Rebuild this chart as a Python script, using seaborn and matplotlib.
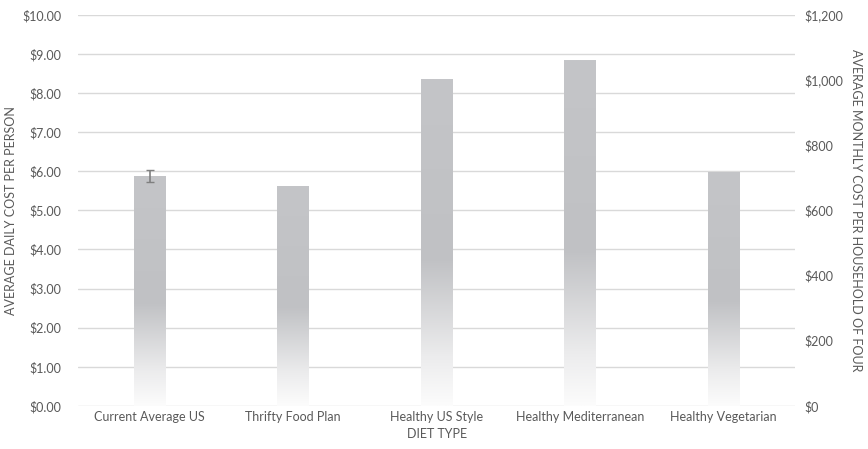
import numpy as np
import seaborn as sns
import matplotlib.pyplot as plt
from matplotlib.colors import LinearSegmentedColormap
from matplotlib.ticker import FuncFormatter

diet_types = ["Current Average US", "Thrifty Food Plan", "Healthy US Style",
              "Healthy Mediterranean", "Healthy Vegetarian"]
daily_cost = [5.88, 5.63, 8.36, 8.84, 5.98]
daily_err = [0.15, 0, 0, 0, 0]

sns.set_theme(style="white")
plt.rcParams["font.family"] = ["Lato", "DejaVu Sans"]
text_col = "#595959"

fig = plt.figure(figsize=(8.68, 4.49), dpi=100)
ax = fig.add_axes([0.09, 0.096, 0.826, 0.871])

sns.barplot(x=diet_types, y=daily_cost, color="#c2c3c6", width=0.22, ax=ax,
            edgecolor="none")

# vertical gradient fill clipped to each bar
grad = LinearSegmentedColormap.from_list(
    "g", [(0, "#fcfcfc"), (0.15, "#ececed"), (0.45, "#c0c1c4"), (1, "#c4c5c8")])
for bar in ax.patches:
    x0, y0 = bar.get_x(), bar.get_y()
    w, h = bar.get_width(), bar.get_height()
    img = ax.imshow(np.linspace(0, 1, 256).reshape(-1, 1), cmap=grad,
                    origin="lower", aspect="auto",
                    extent=[x0, x0 + w, y0, y0 + h], zorder=2)
    img.set_clip_path(bar)
    bar.set_facecolor("none")

ax.errorbar(range(len(diet_types))[:1], daily_cost[:1], yerr=daily_err[:1],
            fmt="none", ecolor="#7f7f7f", elinewidth=1.2, capsize=3, zorder=3)

ax.set_xlim(-0.5, len(diet_types) - 0.5)
ax.set_ylim(0, 10)
ax.set_yticks(np.arange(0, 11, 1))
ax.yaxis.set_major_formatter(FuncFormatter(lambda v, p: f"${v:.2f}"))
ax.grid(axis="y", color="#d9d9d9", lw=1)
ax.set_axisbelow(True)
sns.despine(ax=ax, left=True, bottom=True)
ax.tick_params(axis="both", length=0, labelsize=9, colors=text_col)
ax.tick_params(axis="y", pad=12)
ax.set_xlabel("DIET TYPE", fontsize=9, color=text_col, labelpad=4)
ax.set_ylabel("AVERAGE DAILY COST PER PERSON", fontsize=9, color=text_col,
              labelpad=4)

ax2 = ax.twinx()
ax2.set_ylim(0, 1200)
ax2.set_yticks(np.arange(0, 1201, 200))
ax2.yaxis.set_major_formatter(FuncFormatter(lambda v, p: f"${v:,.0f}"))
sns.despine(ax=ax2, left=True, bottom=True, right=True)
ax2.tick_params(axis="y", length=0, labelsize=9, colors=text_col, pad=7)
ax2.set_ylabel("AVERAGE MONTHLY COST PER HOUSEHOLD OF FOUR", fontsize=9,
               color=text_col, rotation=-90, labelpad=13)
ax2.grid(False)

fig.savefig("out.png", dpi=100, facecolor="white")
